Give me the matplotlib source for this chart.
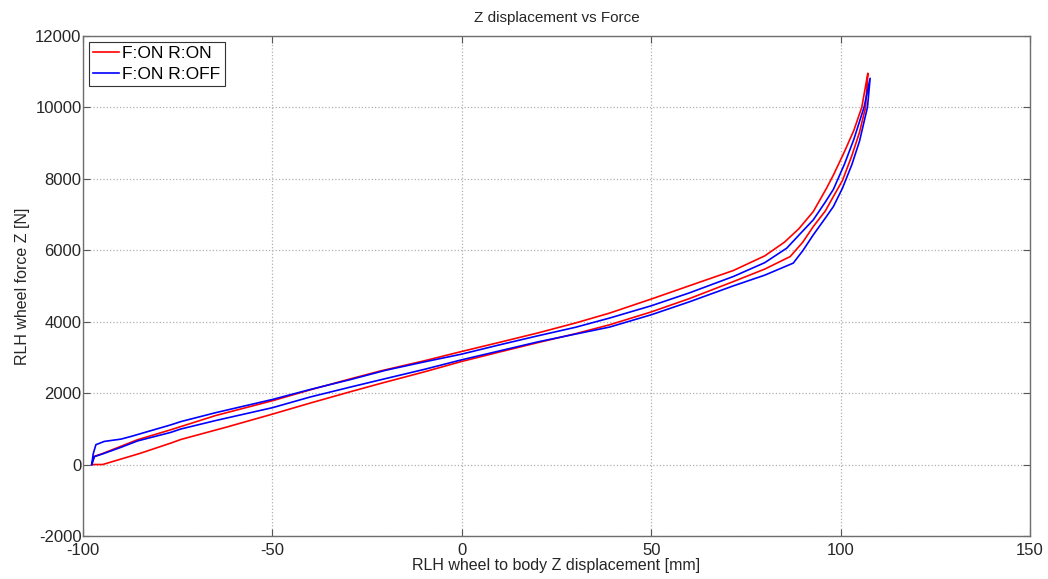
import matplotlib.pyplot as plt
import numpy as np

plt.rcParams['font.family'] = ['Liberation Sans', 'DejaVu Sans']
plt.rcParams['axes.unicode_minus'] = False

# F:ON R:ON - lower branch (start -> tip) and upper branch (start -> tip)
red_low_x = [-97.7, -94.8, -85, -76.8, -74.2, -62, -50, -40, -29.3, -21.4, -10, 0, 10, 20, 30, 39,
             50, 60, 71.7, 80, 86.7, 90, 92.8, 96, 98.1, 100.5, 103, 105, 106.6, 107.2]
red_low_f = [0, 0, 310, 600, 700, 1050, 1410, 1720, 2040, 2270, 2590, 2885, 3150, 3410, 3660, 3910,
             4270, 4640, 5120, 5470, 5820, 6220, 6660, 7100, 7500, 7950, 8650, 9300, 10000, 10900]
red_up_x = [-97.7, -97.0, -95, -85.6, -76.8, -65, -50, -40, -29.3, -21.4, -10, 0, 10, 20, 30, 39,
            50, 60, 71.7, 80, 85.2, 89, 92.8, 96.3, 98.1, 101, 103.5, 105.6, 107.2]
red_up_f = [0, 230, 300, 694, 973, 1370, 1785, 2090, 2400, 2620, 2900, 3164, 3420, 3680, 3960, 4237,
            4630, 5000, 5430, 5840, 6224, 6600, 7080, 7734, 8100, 8750, 9350, 10000, 10950]

# F:ON R:OFF
blue_low_x = [-97.7, -97.0, -95, -90, -85.6, -76.8, -74.2, -65, -50, -40, -29.3, -21.4, -10, 0, 10,
              20, 30, 39, 50, 60, 71.7, 80, 87.5, 90, 92.8, 96, 98.1, 100.5, 103, 105, 107.1, 107.8]
blue_low_f = [0, 220, 290, 480, 660, 900, 993, 1230, 1590, 1890, 2170, 2372, 2660, 2931, 3180,
              3430, 3650, 3846, 4190, 4550, 5000, 5300, 5636, 5980, 6428, 6900, 7220, 7734, 8400, 9050, 10000, 10810]
blue_up_x = [-97.7, -97.3, -96.6, -94.4, -90, -87.3, -82, -76.8, -74.2, -65, -50, -40, -29.3, -20, -10,
             0, 10, 20, 30, 39, 50, 60, 71.7, 80, 85.8, 89, 92.8, 96, 98.1, 101, 103.5, 106.2, 107.8]
blue_up_f = [0, 300, 554, 646, 710, 786, 950, 1110, 1200, 1450, 1820, 2100, 2380, 2640, 2870,
             3090, 3350, 3600, 3840, 4098, 4442, 4800, 5262, 5650, 6056, 6420, 6848, 7350, 7700, 8400, 9100, 10000, 10810]

x_ticks = [-100, -50, 0, 50, 100, 150]
y_ticks = [-2000, 0, 2000, 4000, 6000, 8000, 10000, 12000]

fig = plt.figure(figsize=(10.48, 5.79), dpi=100)
ax = fig.add_axes([0.0792, 0.0743, 0.9036, 0.8640])

red_x = red_low_x + red_up_x[::-1]
red_f = red_low_f + red_up_f[::-1]
blue_x = blue_low_x + blue_up_x[::-1]
blue_f = blue_low_f + blue_up_f[::-1]

ax.plot(red_x, red_f, color='#ff0000', lw=1.2, label='F:ON R:ON')
ax.plot(blue_x, blue_f, color='#0000ff', lw=1.2, label='F:ON R:OFF')

ax.set_xlim(-100, 150)
ax.set_ylim(-2000, 12000)
ax.set_xticks(x_ticks)
ax.set_yticks(y_ticks)
ax.tick_params(direction='in', top=True, right=True, length=5, width=0.8,
               labelsize=12, colors='#555555', labelcolor='#262626')
ax.tick_params(axis='y', pad=1)
ax.tick_params(axis='x', pad=5)
for s in ax.spines.values():
    s.set_color('#6e6e6e')
    s.set_linewidth(1.0)
ax.grid(True, linestyle=':', color='#b0b0b0', linewidth=0.9)

ax.set_title('Z displacement vs Force', fontsize=11, color='#262626', pad=10)
ax.set_xlabel('RLH wheel to body Z displacement [mm]', fontsize=11.5, color='#262626', labelpad=0)
ax.set_ylabel('RLH wheel force Z [N]', fontsize=11.5, color='#262626', labelpad=4)

leg = ax.legend(loc='upper left', fontsize=12.5, fancybox=False, framealpha=1,
                edgecolor='#333333', handlelength=1.5, handletextpad=0.15,
                borderpad=0.25, labelspacing=0.3, borderaxespad=0.35)
leg.get_frame().set_linewidth(0.8)

fig.savefig('out.png', dpi=100)
